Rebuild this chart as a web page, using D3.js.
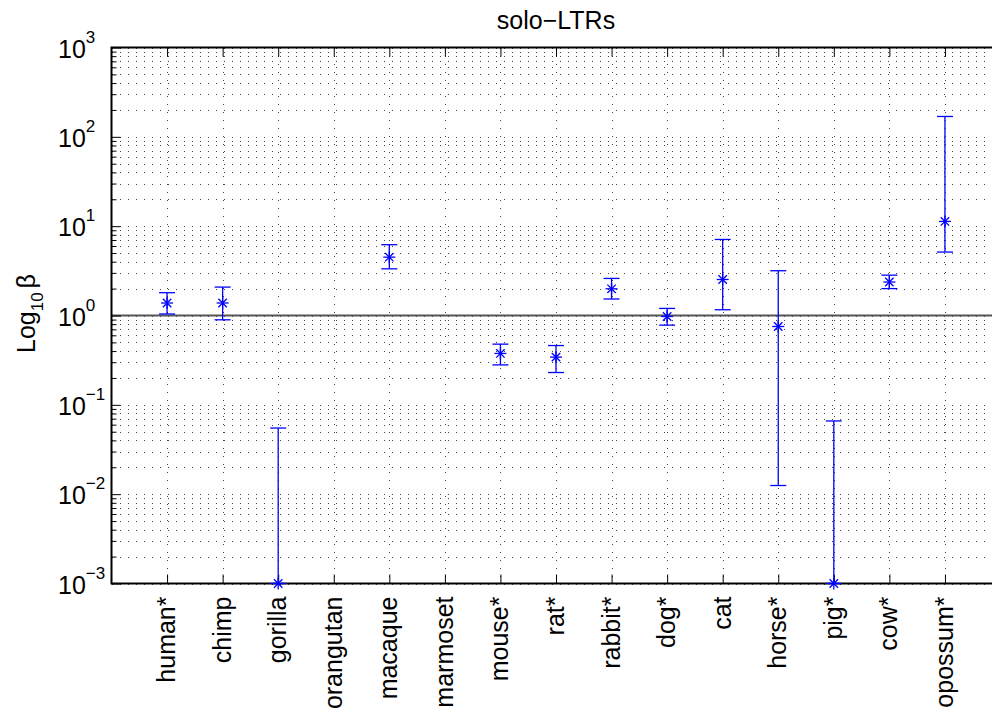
<!DOCTYPE html>
<meta charset="utf-8">
<style>
body { margin: 0; background: #fff; }
svg { display: block; font-family: "Liberation Sans", Arial, sans-serif; }
.tick-lab { font-size: 25px; }
.cat-lab { font-size: 25px; }
.tittle { font-size: 25px; }
.grid line { stroke: #444; stroke-width: 1; stroke-dasharray: 1,7; shape-rendering: crispEdges; }
</style>
<svg width="992" height="715"></svg>
<script src="https://d3js.org/d3.v7.min.js"></script>
<script>
// data (null = no estimate)
var species = ["human*", "chimp", "gorilla", "orangutan", "macaque", "marmoset", "mouse*", "rat*",
               "rabbit*", "dog*", "cat", "horse*", "pig*", "cow*", "opossum*"];
var beta  = [1.38, 1.38, 0.001, null, 4.5, null, 0.376, 0.342, 1.99, 0.975, 2.53, 0.753, 0.001, 2.37, 11.3];
var upper = [1.80, 2.08, 0.055, null, 6.2, null, 0.478, 0.461, 2.6, 1.2, 7.1, 3.17, 0.066, 2.83, 169];
var lower = [1.04, 0.895, 0.001, null, 3.33, null, 0.28, 0.23, 1.53, 0.78, 1.16, 0.0125, 0.001, 2.0, 5.13];
var decades = [-3, -2, -1, 0, 1, 2, 3];

var svg = d3.select("svg"),
    pL = 111.5, pT = 47.5, pB = 583.5, pR = 1000.5;

var x = d3.scaleLinear().domain([0, species.length + 1]).range([pL, pR]);
var y = d3.scaleLog().domain([1e-3, 1e3]).range([pB, pT]);

// grid (dotted)
var minor = [];
decades.slice(0, -1).forEach(function(e) {
  for (var k = 1; k <= 9; k++) minor.push(k * Math.pow(10, e));
});
minor.push(1e3);

var grid = svg.append("g").attr("class", "grid");
grid.selectAll(".hg").data(minor).enter().append("line")
    .attr("x1", pL).attr("x2", pR)
    .attr("y1", function(d) { return Math.round(y(d)) + 0.5; })
    .attr("y2", function(d) { return Math.round(y(d)) + 0.5; });
grid.selectAll(".vg").data(d3.range(1, species.length + 1)).enter().append("line")
    .attr("x1", function(d) { return Math.round(x(d)) + 0.5; })
    .attr("x2", function(d) { return Math.round(x(d)) + 0.5; })
    .attr("y1", pT).attr("y2", pB);

// reference line at 1
svg.append("line")
    .attr("x1", pL).attr("x2", pR)
    .attr("y1", y(1)).attr("y2", y(1))
    .attr("stroke", "#555").attr("stroke-width", 2);

// axes box
var ax = svg.append("g");
ax.append("rect")
    .attr("x", pL).attr("y", pT)
    .attr("width", pR - pL).attr("height", pB - pT)
    .attr("fill", "none").attr("stroke", "#000").attr("stroke-width", 2);

// y ticks inward
var yAxis = d3.axisLeft(y).tickValues(decades.map(function(e) { return Math.pow(10, e); }))
    .tickSize(-9).tickFormat("");
ax.append("g").attr("transform", "translate(" + pL + ",0)").call(yAxis)
    .call(function(g) { g.select(".domain").remove(); });
var yMinor = d3.axisLeft(y).tickValues(minor.filter(function(d) {
      return Math.abs(Math.log10(d) - Math.round(Math.log10(d))) > 1e-9; }))
    .tickSize(-5).tickFormat("");
ax.append("g").attr("transform", "translate(" + pL + ",0)").call(yMinor)
    .call(function(g) { g.select(".domain").remove(); });

// x ticks inward, bottom and top
var xAxisB = d3.axisBottom(x).tickValues(d3.range(1, species.length + 1)).tickSize(-9).tickFormat("");
ax.append("g").attr("transform", "translate(0," + pB + ")").call(xAxisB)
    .call(function(g) { g.select(".domain").remove(); });
var xAxisT = d3.axisTop(x).tickValues(d3.range(1, species.length + 1)).tickSize(-9).tickFormat("");
ax.append("g").attr("transform", "translate(0," + pT + ")").call(xAxisT)
    .call(function(g) { g.select(".domain").remove(); });
ax.selectAll(".tick line").attr("stroke", "#000").attr("stroke-width", 1);

// y tick labels 10^n
var yl = svg.append("g").selectAll("text").data(decades).enter().append("text")
    .attr("class", "tick-lab")
    .attr("x", 58)
    .attr("y", function(d) { return y(Math.pow(10, d)) + 10; });
yl.append("tspan").text("10");
yl.append("tspan").attr("dy", -15).style("font-size", "17px")
    .text(function(d) { return d < 0 ? "\u2212" + (-d) : d; });

// category labels
svg.append("g").selectAll("text").data(species).enter().append("text")
    .attr("class", "cat-lab")
    .attr("text-anchor", "end")
    .attr("transform", function(d, i) { return "translate(" + (x(i + 1) + 8) + "," + (pB + 13) + ") rotate(-90)"; })
    .text(function(d) { return d; });

// y label
var lab = svg.append("text").attr("class", "tick-lab")
    .attr("text-anchor", "middle")
    .attr("transform", "translate(35," + (y(1) - 2) + ") rotate(-90)");
lab.append("tspan").text("Log");
lab.append("tspan").attr("dy", 8).style("font-size", "17px").text("10");
lab.append("tspan").attr("dy", -8).attr("dx", 4).text("\u03b2");

// title
svg.append("text").attr("class", "tittle")
    .attr("text-anchor", "middle")
    .attr("x", (pL + pR) / 2).attr("y", 29)
    .text("solo\u2212LTRs");

// error bars
var pts = species.map(function(s, i) {
  return { name: s, i: i + 1, v: beta[i], hi: upper[i], lo: lower[i] };
}).filter(function(d) { return d.v != null; });

var eb = svg.append("g").attr("stroke", "#0000ff").attr("stroke-width", 1.3).attr("fill", "none");
eb.selectAll(".stem").data(pts).enter().append("line")
    .attr("x1", function(d) { return x(d.i); }).attr("x2", function(d) { return x(d.i); })
    .attr("y1", function(d) { return y(d.hi); }).attr("y2", function(d) { return y(d.lo); });
eb.selectAll(".capHi").data(pts).enter().append("line")
    .attr("x1", function(d) { return x(d.i) - 8; }).attr("x2", function(d) { return x(d.i) + 8; })
    .attr("y1", function(d) { return y(d.hi); }).attr("y2", function(d) { return y(d.hi); });
eb.selectAll(".capLo").data(pts).enter().append("line")
    .attr("x1", function(d) { return x(d.i) - 8; }).attr("x2", function(d) { return x(d.i) + 8; })
    .attr("y1", function(d) { return y(d.lo); }).attr("y2", function(d) { return y(d.lo); });

// asterisk markers
var star = eb.selectAll(".star").data(pts).enter().append("g")
    .attr("transform", function(d) { return "translate(" + x(d.i) + "," + y(d.v) + ")"; });
[[-6, 0, 6, 0], [0, -6, 0, 6], [-4.2, -4.2, 4.2, 4.2], [-4.2, 4.2, 4.2, -4.2]].forEach(function(s) {
  star.append("line").attr("x1", s[0]).attr("y1", s[1]).attr("x2", s[2]).attr("y2", s[3]);
});
</script>
